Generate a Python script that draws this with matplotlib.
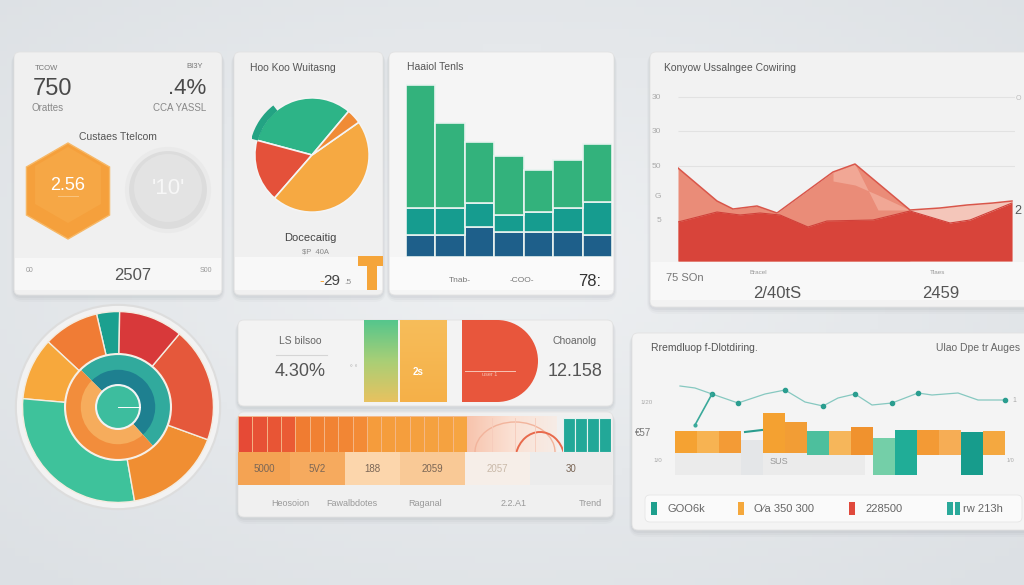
import numpy as np
import matplotlib.pyplot as plt
from matplotlib.patches import FancyBboxPatch, RegularPolygon, Circle, Wedge, Rectangle, Arc
from matplotlib.colors import LinearSegmentedColormap

plt.rcParams['font.family'] = ['Liberation Sans', 'DejaVu Sans']

W, H = 1024, 585

# ---- data ----
# pie card (degrees of each slice)
pie_values = [115, 64, 166, 15]
pie_colors = ['#2db487', '#e4513a', '#f6a942', '#f08b36']

# stacked bars card
bar_total = [172, 134, 115, 101, 87, 97, 113]
bar_mid = [49, 49, 54, 42, 45, 49, 55]
bar_low = [22, 22, 30, 25, 25, 25, 22]

# area card
area_up_x = [0, 39, 55, 79, 99, 155, 177, 232, 262, 289, 315, 334]
area_up_y = [93, 60, 52, 55, 48, 89, 97, 51, 53, 56, 58, 60]
area_peak_x = [155, 177, 200, 232]
area_peak_y = [80, 76, 66, 51]
area_low_x = [0, 39, 62, 82, 102, 130, 149, 195, 232, 272, 292, 334]
area_low_y = [39, 49, 46, 48, 46, 34, 40, 41, 50, 38, 41, 58]
area_ticks = [41, 66, 95, 130, 164]
area_tick_labels = ['5', 'G', '50', '30', '30']

# donut (degrees)
donut_outer = [14, 34, 38, 105, 60, 70, 39]
donut_outer_colors = ['#1ba08f', '#f07c35', '#f7a83c', '#3ec29b', '#f08e32', '#e5583b', '#d8393a']
donut_inner = [183, 177]

# heat strip card
heat_cells = [0.0, 0.05, 0.08, 0.12, 0.35, 0.4, 0.42, 0.45, 0.5, 0.68, 0.7, 0.72, 0.75, 0.78, 0.8, 0.85]
teal_cells = [1, 1, 1, 1]
row_labels = ['5000', '5V2', '188', '2059', '2057', '30']
row_colors = ['#f4a353', '#f6aa5e', '#fcd6ac', '#f9c996', '#f6eee8', '#ececec']
row_widths = [52, 55, 55, 65, 65, 83]
foot_labels = ['Heosoion', 'Fawalbdotes', 'Raganal', '2.2.A1', 'Trend']

# combo card
line_x = [10, 25, 42, 68, 95, 115, 135, 153, 168, 185, 202, 222, 248, 262, 288, 308, 335]
line_y = [94, 92, 86, 77, 86, 90, 78, 74, 82, 86, 75, 77, 87, 85, 87, 80, 80]
line_marks = [2, 3, 5, 7, 9, 11, 12, 16]
combo_top = [49, 49, 49, 40, 67, 58, 49, 49, 53, 42, 50, 50, 50, 48, 49]
combo_bot = [27, 27, 27, 5, 27, 27, 25, 25, 25, 5, 5, 25, 25, 5, 25]
combo_colors = ['#f5a232', '#f7b352', '#f39b36', '#e4e6e8', '#f4a131', '#f29d35', '#4dbf9d',
                '#f6b65a', '#f0922e', '#74cfa8', '#20ad97', '#f39a35', '#f6ad55', '#179c8c', '#f4a840']
legend_labels = ['GOO6k', 'O\u2215a 350 300', '228500', 'rw 213h']
legend_colors = ['#1e9f8d', '#f5a83c', '#e0493c', '#2aa99a']

fig = plt.figure(figsize=(W / 100, H / 100), dpi=100)


def px_axes(x0, y0, x1, y1):
    ax = fig.add_axes([x0 / W, 1 - y1 / H, (x1 - x0) / W, (y1 - y0) / H])
    ax.patch.set_alpha(0)
    return ax


# base layer in pixel coordinates
bg = fig.add_axes([0, 0, 1, 1])
yy, xx = np.mgrid[0:1:80j, 0:1:140j]
d = np.sqrt((xx - 0.5) ** 2 + (yy - 0.45) ** 2)
bg_cmap = LinearSegmentedColormap.from_list('bg', ['#eef0f2', '#dce0e4'])
bg.imshow(d, cmap=bg_cmap, extent=(0, W, H, 0), aspect='auto', zorder=0)


def card(x0, y0, x1, y1, fc='#f2f2f2', r=6):
    for k, a in [(6, 0.05), (4, 0.07), (2, 0.09)]:
        bg.add_patch(FancyBboxPatch((x0 - k / 2, y0 + 1), x1 - x0 + k, y1 - y0 + k,
                                    boxstyle='round,pad=0,rounding_size=%d' % (r + k),
                                    fc='#8a9098', ec='none', alpha=a, zorder=1))
    bg.add_patch(FancyBboxPatch((x0, y0), x1 - x0, y1 - y0,
                                boxstyle='round,pad=0,rounding_size=%d' % r,
                                fc=fc, ec='#e2e2e2', lw=0.6, zorder=2))


def strip(x0, y0, x1, y1, fc='#f8f8f8'):
    bg.add_patch(Rectangle((x0, y0), x1 - x0, y1 - y0, fc=fc, ec='none', zorder=3))


def txt(x, y, s, size=7, color='#666666', ha='left', weight='normal', ax=None):
    (ax or bg).text(x, y, s, fontsize=size, color=color, ha=ha, va='center',
                    fontweight=weight, zorder=10)


# ---- card A: KPI ----
card(14, 52, 222, 295, '#f0f0f0')
strip(15, 258, 221, 290, '#f7f7f7')
txt(35, 68, 'TCOW', 5.5, '#777777')
txt(33, 89, '750', 17, '#4a4a4a')
txt(32, 108, 'Orattes', 7, '#888888')
txt(203, 67, 'BI3Y', 5.5, '#777777', ha='right')
txt(206, 89, '.4%', 16, '#4a4a4a', ha='right')
txt(206, 108, 'CCA YASSL', 7, '#888888', ha='right')
txt(118, 137, 'Custaes Ttelcom', 7.5, '#555555', ha='center')
bg.add_patch(RegularPolygon((68, 191), 6, radius=48, orientation=0, fc='#f5a03c', ec='#f7b866', lw=1, zorder=4))
bg.add_patch(RegularPolygon((68, 185), 6, radius=38, orientation=0, fc='#f8ae4e', ec='none', alpha=0.5, zorder=4))
txt(68, 186, '2.56', 13, 'white', ha='center')
txt(68, 197, '\u2014\u2014\u2014', 5, '#fde0b5', ha='center')
bg.add_patch(Circle((168, 190), 41, fc='#dcdcdc', ec='#eaeaea', lw=3, zorder=4))
bg.add_patch(Circle((168, 188), 34, fc='#e3e3e3', ec='none', zorder=4))
txt(168, 189, "'10'", 16, '#f7f7f7', ha='center')
txt(26, 271, '00', 5, '#999999')
txt(133, 276, '2507', 12, '#555555', ha='center')
txt(212, 271, 'S00', 5, '#999999', ha='right')

# ---- card B: pie ----
card(234, 52, 383, 295, '#f0f0f0')
strip(235, 257, 382, 290, '#f8f8f8')
txt(250, 68, 'Hoo Koo Wuitasng', 7.5, '#555555')
ax = px_axes(252, 95, 372, 215)
ax.pie(pie_values, colors=pie_colors, startangle=50, counterclock=True,
       wedgeprops=dict(edgecolor='#f4f4f4', linewidth=1.2))
ax.add_patch(Wedge((0, 0), 1.1, 128, 165, width=0.12, fc='#23a383', ec='none'))
ax.set_xlim(-1.05, 1.05)
ax.set_ylim(-1.05, 1.05)
ax.set_aspect('equal')
ax.axis('off')
txt(310, 238, 'Docecaitig', 8, '#444444', ha='center')
txt(315, 252, '$P  40A', 5.5, '#888888', ha='center')
bg.add_patch(Rectangle((358, 256), 25, 10, fc='#f5a53a', ec='none', zorder=5))
bg.add_patch(Rectangle((367, 256), 10, 34, fc='#f5a53a', ec='none', zorder=5))
txt(322, 281, '-', 10, '#f5a53a', ha='center')
txt(332, 281, '29', 11, '#444444', ha='center')
txt(348, 283, '.5', 6, '#888888', ha='center')

# ---- card C: stacked bars ----
card(389, 52, 614, 295, '#f5f5f5')
strip(390, 257, 613, 290, '#fafafa')
txt(407, 67, 'Haaiol Tenls', 7.5, '#555555')
ax = px_axes(406, 80, 612, 257)
xs = np.arange(len(bar_total))
tot = np.array(bar_total)
mid = np.array(bar_mid)
low = np.array(bar_low)
ax.bar(xs, low, width=1.0, color='#1e5f8a', edgecolor='#e8f3f0', linewidth=1.2)
ax.bar(xs, mid - low, bottom=low, width=1.0, color='#169c8f', edgecolor='#e8f3f0', linewidth=1.2)
ax.bar(xs, tot - mid, bottom=mid, width=1.0, color='#33b27c', edgecolor='#e8f3f0', linewidth=1.2)
ax.set_xlim(-0.5, len(bar_total) - 0.5)
ax.set_ylim(0, 177)
ax.axis('off')
txt(460, 281, 'Tnab-', 6, '#777777', ha='center')
txt(522, 281, '-COO-', 6, '#777777', ha='center')
txt(578, 281, '78:', 12, '#333333')

# ---- card D: area ----
card(650, 52, 1032, 307, '#f2f2f2')
strip(651, 262, 1024, 300, '#f8f8f8')
txt(664, 68, 'Konyow Ussalngee Cowiring', 7.5, '#555555')
ax = px_axes(678, 85, 1015, 261)
ax.hlines(area_ticks[2:], 0, 337, color='#e2e2e2', lw=0.8, zorder=0)
ux = np.array(area_up_x)
ax.fill_between(ux, area_up_y, where=ux <= 232, color='#ea8c78', lw=0)
ax.fill_between(ux, area_up_y, where=ux >= 232, color='#f4c6ba', lw=0)
ax.fill_between(area_peak_x, area_peak_y, area_up_y[5:8] + [51], color='#f1a795', lw=0)
ax.plot(area_up_x, area_up_y, color='#d9564a', lw=1.1)
ax.fill_between(area_low_x, area_low_y, color='#d8443a', lw=0)
ax.plot(area_low_x, area_low_y, color='#d0413a', lw=0.8)
ax.set_xlim(0, 337)
ax.set_ylim(0, 176)
ax.set_yticks(area_ticks, area_tick_labels)
ax.tick_params(axis='y', length=0, pad=12, labelsize=6, labelcolor='#aaaaaa')
ax.set_xticks([])
for s in ax.spines.values():
    s.set_visible(False)
txt(1021, 98, 'O', 5, '#bbbbbb', ha='right')
txt(1021, 211, '2', 9, '#555555', ha='right')
txt(666, 278, '75 SOn', 8, '#777777')
txt(750, 272, 'Bracel', 4.5, '#999999')
txt(753, 293, '2/40tS', 12, '#555555')
txt(930, 272, 'Tlaes', 4.5, '#999999')
txt(922, 293, '2459', 12, '#555555')

# ---- donut ----
ax = px_axes(13, 302, 223, 512)
ax.add_patch(Circle((0, 0), 1.07, fc='#f2f2f2', ec='#dddddd', lw=1.5))
ax.pie(donut_outer, radius=1, colors=donut_outer_colors, startangle=89, counterclock=True,
       wedgeprops=dict(width=0.45, edgecolor='#f4ece0', linewidth=1))
ax.pie(donut_inner, radius=0.55, colors=['#31aa9d', '#f28d3c'], startangle=-48,
       wedgeprops=dict(width=0.17, edgecolor='none'))
ax.pie(donut_inner, radius=0.39, colors=['#1e8090', '#f6ac5c'], startangle=-48,
       wedgeprops=dict(width=0.16, edgecolor='none'))
ax.add_patch(Circle((0, 0), 0.555, fill=False, ec='#f6efe6', lw=1.5))
ax.add_patch(Circle((0, 0), 0.23, fc='#3dbd9e', ec='#f3f3f3', lw=1.5))
ax.plot([0, 0.23], [0, 0], color='white', lw=0.7)
ax.set_xlim(-1.1, 1.1)
ax.set_ylim(-1.1, 1.1)
ax.set_aspect('equal')
ax.axis('off')

# ---- card E ----
card(238, 320, 613, 406, '#f3f3f3')
txt(300, 341, 'LS bilsoo', 7.5, '#666666', ha='center')
bg.plot([276, 327], [355, 355], color='#d5d5d5', lw=0.8, zorder=5)
txt(300, 371, '4.30%', 13, '#555555', ha='center')
txt(354, 368, '\u00b0 \u00b0', 5, '#aaaaaa', ha='center')
grad = np.linspace(0, 1, 50).reshape(-1, 1)
gy_cmap = LinearSegmentedColormap.from_list('gy', ['#56c68c', '#a9cf76', '#e7c260'])
bg.imshow(grad, cmap=gy_cmap, extent=(364, 398, 402, 320), aspect='auto', zorder=5)
or_cmap = LinearSegmentedColormap.from_list('or', ['#f7bd5a', '#f5b048'])
bg.imshow(grad, cmap=or_cmap, extent=(400, 447, 402, 320), aspect='auto', zorder=5)
txt(418, 372, '2s', 7, '#ffffff', weight='bold', ha='center')
bg.add_patch(Rectangle((462, 320), 35, 82, fc='#e8563c', ec='none', zorder=5))
bg.add_patch(Wedge((497, 361), 41, -90, 90, fc='#e8563c', ec='none', zorder=5))
bg.plot([465, 515], [371, 371], color='#f8c4b4', lw=0.7, zorder=6)
txt(490, 374, 'user 1', 4, '#f8c4b4', ha='center')
txt(575, 341, 'Choanolg', 7.5, '#666666', ha='center')
txt(575, 371, '12.158', 13, '#555555', ha='center')

# ---- card F: heat strip ----
card(238, 412, 613, 517, '#f0f0f0')
heat_cmap = LinearSegmentedColormap.from_list('heat', ['#e64a36', '#f07a30', '#f59b3b', '#f6ad48'])
ax = px_axes(238, 416, 467, 452)
ax.bar(np.arange(len(heat_cells)), 1, width=1.0, color=heat_cmap(np.array(heat_cells)),
       edgecolor='#f5b98a', linewidth=0.6)
ax.set_xlim(-0.5, len(heat_cells) - 0.5)
ax.set_ylim(0, 1)
ax.axis('off')
pe_cmap = LinearSegmentedColormap.from_list('pe', ['#f7c4ad', '#fbe1d4', '#f6ece6'])
bg.imshow(np.linspace(0, 1, 50).reshape(1, -1), cmap=pe_cmap, extent=(467, 557, 452, 416),
          aspect='auto', zorder=4)
bg.add_patch(Arc((515, 452), 80, 60, theta1=180, theta2=360, color='#f2b49c', lw=1.0, zorder=5))
bg.add_patch(Arc((540, 462), 50, 60, theta1=200, theta2=340, color='#e86a4c', lw=1.4, zorder=5))
for xv in [492, 515, 535]:
    bg.plot([xv, xv], [418, 452], color='#f6cbbb', lw=0.6, zorder=5)
ax = px_axes(563, 418, 611, 452)
ax.bar(np.arange(len(teal_cells)), teal_cells, width=1.0, color='#22a898', edgecolor='#e6f2f0', linewidth=0.8)
ax.set_xlim(-0.5, len(teal_cells) - 0.5)
ax.set_ylim(0, 1)
ax.axis('off')
ax = px_axes(238, 452, 613, 485)
lefts = np.concatenate([[0], np.cumsum(row_widths)[:-1]])
ax.bar(lefts, 1, width=row_widths, align='edge', color=row_colors, edgecolor='none')
for lx, w, lab, c in zip(lefts, row_widths, row_labels, row_colors):
    ax.text(lx + w / 2, 0.5, lab, ha='center', va='center', fontsize=7,
            color='#c9b9a9' if lab == '2057' else '#7a6656')
ax.set_xlim(0, sum(row_widths))
ax.set_ylim(0, 1)
ax.axis('off')
for xv, lab in zip([290, 352, 425, 514, 590], foot_labels):
    txt(xv, 503, lab, 6.5, '#999999', ha='center')

# ---- card G: combo ----
card(632, 333, 1032, 530, '#f4f4f4')
txt(651, 348, 'Rremdluop f-Dlotdiring.', 7.5, '#555555')
txt(1020, 348, 'Ulao Dpe tr Auges', 7.5, '#666666', ha='right')
bg.add_patch(Rectangle((675, 453), 190, 22, fc='#ebebeb', ec='none', zorder=3))
ax = px_axes(670, 370, 1010, 480)
centers = 16 + 22 * np.arange(len(combo_top))
top = np.array(combo_top)
bot = np.array(combo_bot)
ax.bar(centers, top - bot, bottom=bot, width=22, color=combo_colors, edgecolor='none')
ax.plot(line_x, line_y, color='#86c8c0', lw=0.9)
ax.plot(np.array(line_x)[line_marks], np.array(line_y)[line_marks], 'o', ms=3, color='#2a9d8f')
ax.plot([42, 25], [86, 55], color='#3aa99a', lw=1.2)
ax.plot([25], [55], 'o', ms=2, color='#3aa99a')
ax.plot([75, 92], [48, 50], color='#2a9d8f', lw=1.5)
ax.set_xlim(0, 340)
ax.set_ylim(0, 110)
ax.axis('off')
txt(640, 403, '1/20', 4.5, '#aaaaaa')
txt(635, 433, '\u20ac57', 7, '#777777')
txt(653, 460, '1/0', 4.5, '#aaaaaa')
txt(1012, 401, '1', 5, '#aaaaaa')
txt(1007, 460, '1/0', 4, '#aaaaaa')
txt(770, 462, 'SUS', 6.5, '#999999')
bg.add_patch(FancyBboxPatch((645, 495), 377, 27, boxstyle='round,pad=0,rounding_size=5',
                            fc='#fafafa', ec='#e6e6e6', lw=0.6, zorder=4))
leg_x = [651, 738, 849, 947]
for lx, lab, c in zip(leg_x, legend_labels, legend_colors):
    bg.add_patch(Rectangle((lx, 502), 6, 13, fc=c, ec='none', zorder=6))
    txt(lx + 16, 509, lab, 8, '#666666')
bg.add_patch(Rectangle((955, 502), 5, 13, fc='#2aa99a', ec='none', zorder=6))

bg.set_xlim(0, W)
bg.set_ylim(H, 0)
bg.axis('off')

fig.savefig('out.png', dpi=100)
